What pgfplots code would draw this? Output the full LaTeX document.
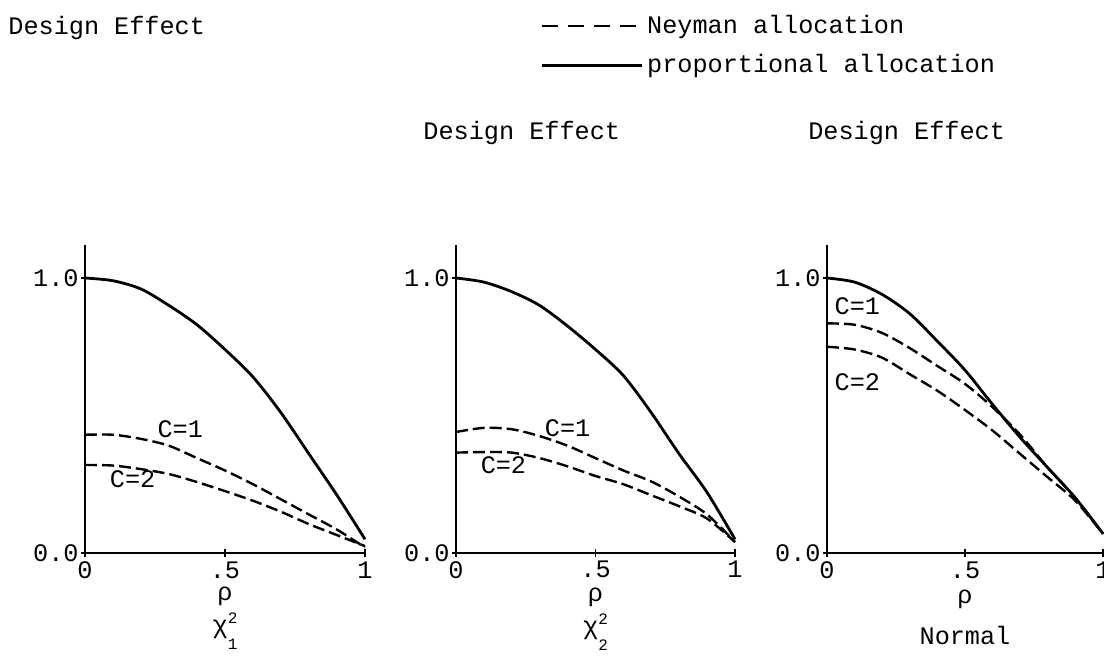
\documentclass[border=0pt]{standalone}
\usepackage{fontspec}
\setmainfont{Liberation Mono}
\setmonofont{Liberation Mono}
\usepackage{pgfplots}
\usepackage{pgfplotstable}
\pgfplotsset{compat=1.18}
\newcommand\ff{\fontsize{12.6}{15}\selectfont\ttfamily}
\newcommand\chisq[1]{χ\rlap{\raisebox{5pt}{\fontsize{8}{9}\selectfont 2}}\raisebox{-8pt}{\fontsize{8}{9}\selectfont #1}}

% Panel 1: chi^2_1
\pgfplotstableread{
x    prop  c1    c2
0.0  1.00  0.430 0.320
0.1  0.99  0.430 0.318
0.2  0.96  0.415 0.305
0.3  0.90  0.390 0.287
0.4  0.83  0.345 0.258
0.5  0.74  0.300 0.225
0.6  0.64  0.250 0.190
0.7  0.51  0.195 0.150
0.8  0.36  0.140 0.105
0.9  0.21  0.085 0.065
1.0  0.05  0.020 0.025
}\tabA
% Panel 2: chi^2_2
\pgfplotstableread{
x    prop  c1    c2
0.0  1.00  0.440 0.365
0.1  0.985 0.455 0.367
0.2  0.95  0.450 0.365
0.3  0.90  0.425 0.345
0.4  0.825 0.390 0.315
0.5  0.74  0.345 0.280
0.6  0.645 0.300 0.250
0.7  0.51  0.260 0.210
0.8  0.36  0.205 0.170
0.9  0.22  0.140 0.125
1.0  0.05  0.040 0.040
}\tabB
% Panel 3: Normal
\pgfplotstableread{
x    prop  c1    c2
0.0  1.00  0.835 0.750
0.1  0.985 0.830 0.740
0.2  0.94  0.800 0.710
0.3  0.87  0.745 0.650
0.4  0.77  0.680 0.590
0.5  0.665 0.615 0.520
0.6  0.54  0.530 0.445
0.7  0.42  0.430 0.360
0.8  0.31  0.310 0.275
0.9  0.20  0.200 0.190
1.0  0.07  0.070 0.070
}\tabC

\pgfplotsset{
  panel/.style={
    scale only axis, height=154pt,
    xmin=0, xmax=1, ymin=0, ymax=1.12,
    axis lines=left, axis line style={-},
    x axis line style={line width=1.3pt},
    y axis line style={line width=0.6pt},
    xtick={0,0.5,1}, xticklabels={0,.5,1},
    ytick={0,1}, yticklabels={0.0,1.0},
    tick style={black, line width=0.8pt}, major tick length=4pt, tick align=center,
    ticklabel style={font=\ff},
    yticklabel style={inner sep=1pt},
    xticklabel style={inner sep=0pt, yshift=-2pt},
    clip=false,
  },
  prop/.style={black, line width=1.4pt, smooth},
  ney/.style={black, line width=1.2pt, smooth, dash pattern=on 6pt off 2.5pt},
}

\begin{document}
\begin{tikzpicture}
\useasboundingbox (0pt,0pt) rectangle (552pt,332.5pt);

% ---------- Panel 1 ----------
\begin{axis}[panel, width=140pt, at={(42.5pt,56pt)}, anchor=south west]
\addplot[prop] table[x=x,y=prop] {\tabA};
\addplot[ney] table[x=x,y=c1] {\tabA};
\addplot[ney] table[x=x,y=c2] {\tabA};
\node[font=\ff, anchor=base west, inner sep=0pt] at (rel axis cs:-0.275,1.685) {Design Effect};
\node[font=\ff] at (axis cs:0.34,0.45) {C=1};
\node[font=\ff] at (axis cs:0.17,0.27) {C=2};
\node[font=\ff, anchor=north, align=center, inner sep=0pt] at (rel axis cs:0.5,-0.109) {ρ\\[1.5pt]\chisq{1}};
\end{axis}

% ---------- Panel 2 ----------
\begin{axis}[panel, width=139.5pt, at={(228pt,56pt)}, anchor=south west]
\addplot[prop] table[x=x,y=prop] {\tabB};
\addplot[ney] table[x=x,y=c1] {\tabB};
\addplot[ney] table[x=x,y=c2] {\tabB};
\node[font=\ff, anchor=base west, inner sep=0pt] at (rel axis cs:-0.118,1.344) {Design Effect};
\node[font=\ff] at (axis cs:0.40,0.455) {C=1};
\node[font=\ff] at (axis cs:0.17,0.32) {C=2};
\node[font=\ff, anchor=north, align=center, inner sep=0pt] at (rel axis cs:0.5,-0.111) {ρ\\[1.5pt]\chisq{2}};
\end{axis}

% ---------- Panel 3 ----------
\begin{axis}[panel, width=138pt, at={(413.5pt,56pt)}, anchor=south west,
  legend style={draw=none, fill=none, font=\ff, at={(rel axis cs:-1.04,1.76)}, anchor=north west,
    row sep=5pt, inner sep=0pt, cells={anchor=west}},
  legend cell align=left,
  legend image code/.code={\draw[#1] (0pt,0pt) -- (50pt,0pt);},
]
\addlegendimage{black, line width=1.2pt, dash pattern=on 8pt off 5pt}
\addlegendentry{Neyman allocation}
\addlegendimage{black, line width=1.4pt}
\addlegendentry{proportional allocation}
\addplot[prop, forget plot] table[x=x,y=prop] {\tabC};
\addplot[ney, forget plot] table[x=x,y=c1] {\tabC};
\addplot[ney, forget plot] table[x=x,y=c2] {\tabC};
\node[font=\ff, anchor=base west, inner sep=0pt] at (rel axis cs:-0.069,1.344) {Design Effect};
\node[font=\ff] at (axis cs:0.11,0.898) {C=1};
\node[font=\ff] at (axis cs:0.11,0.62) {C=2};
\node[font=\ff, anchor=north, align=center, inner sep=0pt] at (rel axis cs:0.5,-0.12) {ρ\\[5.5pt]Normal};
\end{axis}
\end{tikzpicture}
\end{document}
